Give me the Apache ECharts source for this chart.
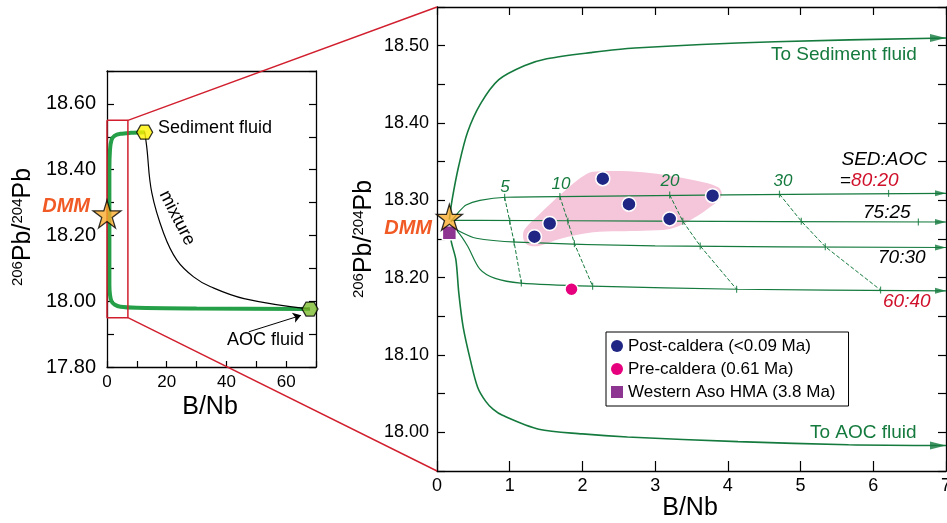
<!DOCTYPE html>
<html>
<head>
<meta charset="utf-8">
<script src="https://cdn.jsdelivr.net/npm/echarts@6/dist/echarts.min.js"></script>
<style>
html, body { margin: 0; padding: 0; background: #fff; }
#main { width: 947px; height: 523px; }
</style>
</head>
<body>
<div id="main"></div>
<script>
// ---- left panel (overview, B/Nb 0-70) ----
var greenX = [12.6, 8, 4.5, 2.5, 1.5, 1.0, 0.8, 0.8, 1.0, 1.5, 2.5, 4.5, 10, 30, 68];
var greenY = [18.514, 18.512, 18.509, 18.503, 18.49, 18.46, 18.40, 18.05, 18.02, 18.0, 17.99, 17.983, 17.98, 17.978, 17.976];
var mixX = [12.6, 13.3, 15.0, 19.0, 23.4, 29.0, 34.7, 45.9, 68.0];
var mixY = [18.516, 18.47, 18.33, 18.206, 18.125, 18.074, 18.044, 18.008, 17.976];
var sedFluid = [12.6, 18.514];
var aocFluid = [68, 17.976];
var dmmLeft = [0, 18.265];
var boxX = [0, 7, 7, 0, 0];
var boxY = [18.55, 18.55, 17.95, 17.95, 18.55];
var aocArrowX = [47.5, 65];
var aocArrowY = [17.907, 17.957];

// ---- right panel (zoom, B/Nb 0-7) ----
var sedCurveX = [0.17, 0.21, 0.30, 0.42, 0.6, 0.85, 1.2, 1.51, 2.11, 2.72, 4.65, 7];
var sedCurveY = [18.275, 18.302, 18.345, 18.388, 18.425, 18.456, 18.474, 18.483, 18.491, 18.497, 18.505, 18.51];
var aocCurveX = [0.17, 0.2, 0.26, 0.30, 0.36, 0.46, 0.56, 0.67, 0.77, 0.9, 1.4, 2.0, 2.62, 4.14, 5.66, 7];
var aocCurveY = [18.262, 18.245, 18.223, 18.18, 18.136, 18.093, 18.058, 18.04, 18.03, 18.022, 18.004, 17.998, 17.994, 17.988, 17.984, 17.983];

var mix8020X = [0.19, 0.3, 0.4, 0.59, 0.95, 2, 4, 7];
var mix8020Y = [18.272, 18.285, 18.294, 18.300, 18.304, 18.305, 18.307, 18.309];
var mix7525X = [0.19, 0.6, 3, 7];
var mix7525Y = [18.274, 18.274, 18.273, 18.272];
var mix7030X = [0.19, 0.29, 0.54, 1.10, 3, 7];
var mix7030Y = [18.268, 18.261, 18.251, 18.246, 18.241, 18.239];
var mix6040X = [0.19, 0.29, 0.42, 0.59, 0.8, 1.15, 2.12, 4.14, 7];
var mix6040Y = [18.266, 18.259, 18.241, 18.211, 18.199, 18.193, 18.189, 18.185, 18.183];

// fluid addition (%) ticks across the mixing lines
var d5X = [0.93, 1.0, 1.06, 1.16];
var d5Y = [18.304, 18.273, 18.246, 18.193];
var d10X = [1.69, 1.80, 1.89, 2.14];
var d10Y = [18.305, 18.273, 18.244, 18.189];
var d20X = [3.20, 3.38, 3.62, 4.12];
var d20Y = [18.307, 18.273, 18.241, 18.185];
var d30X = [4.71, 5.01, 5.34, 6.10];
var d30Y = [18.308, 18.273, 18.240, 18.184];
var extraTickX = [6.21, 6.62];
var extraTickY = [18.309, 18.272];

var regionX = [1.183, 1.207, 1.413, 1.734, 2.056, 2.239, 2.835, 3.570, 3.867, 3.914, 3.753, 3.432, 3.202, 2.835, 2.147, 1.688, 1.413, 1.276, 1.207];
var regionY = [18.2542, 18.2629, 18.2823, 18.3103, 18.3340, 18.3375, 18.3362, 18.3254, 18.3168, 18.3060, 18.2909, 18.2715, 18.2629, 18.2607, 18.2586, 18.2499, 18.2413, 18.2413, 18.2457];

var postX = [2.28, 2.64, 3.79, 3.20, 1.55, 1.34];
var postY = [18.328, 18.295, 18.306, 18.276, 18.270, 18.253];
var preX = [1.85];
var preY = [18.185];
var hmaX = [0.17];
var hmaY = [18.258];
var dmmRight = [0.17, 18.278];

function pts(xs, ys) { return xs.map(function (x, i) { return [x, ys[i]]; }); }

var FONT = 'Liberation Sans, Arial, Helvetica, sans-serif';
var GREEN = '#157a3e';
var STAR = 'path://M50,0 L61,35 L98,35 L68,57 L79,91 L50,70 L21,91 L32,57 L2,35 L39,35 Z';
var HEX = 'path://M-1,0 L-0.5,-0.866 L0.5,-0.866 L1,0 L0.5,0.866 L-0.5,0.866 Z';
var ARROW = 'path://M0,0 L12,4 L0,8 Z';

function axisBase(extra) {
    var a = {
        type: 'value',
        axisLine: { show: true, onZero: false, lineStyle: { color: '#000', width: 1.3 } },
        axisTick: { show: true, inside: true, length: 7, lineStyle: { color: '#000', width: 1.2 } },
        splitLine: { show: false },
        axisLabel: { show: false }
    };
    for (var k in extra) a[k] = extra[k];
    return a;
}

var chart = echarts.init(document.getElementById('main'));

var option = {
    animation: false,
    backgroundColor: '#fff',
    textStyle: { fontFamily: FONT },
    grid: [
        { left: 107, top: 71, width: 209, height: 296, containLabel: false, outerBoundsMode: 'none' },
        { left: 437, top: 7, width: 509, height: 464, containLabel: false, outerBoundsMode: 'none' }
    ],
    xAxis: [
        axisBase({ gridIndex: 0, position: 'bottom', min: 0, max: 70, interval: 10,
            axisTick: { show: true, inside: true, length: 6, lineStyle: { color: '#000', width: 1.2 } },
            axisLabel: { show: true, margin: 7, fontSize: 17, color: '#000', fontFamily: FONT,
                formatter: function (v) { return (v % 20 === 0 && v < 70) ? String(v) : ''; } } }),
        axisBase({ gridIndex: 0, position: 'top', min: 0, max: 70, interval: 10, axisTick: { show: false } }),
        axisBase({ gridIndex: 1, position: 'bottom', min: 0, max: 7, interval: 1,
            axisTick: { show: true, inside: true, length: 10, lineStyle: { color: '#000', width: 1.2 } },
            axisLabel: { show: true, margin: 6, fontSize: 18, color: '#000', fontFamily: FONT } }),
        axisBase({ gridIndex: 1, position: 'top', min: 0, max: 7, interval: 1,
            axisTick: { show: true, inside: true, length: 8, lineStyle: { color: '#000', width: 1.2 } } })
    ],
    yAxis: [
        axisBase({ gridIndex: 0, position: 'left', min: 17.8, max: 18.7, interval: 0.1,
            axisLabel: { show: true, margin: 11, fontSize: 20, color: '#000', fontFamily: FONT,
                formatter: function (v) { return Math.round(v * 10) % 2 === 0 ? v.toFixed(2) : ''; } } }),
        axisBase({ gridIndex: 0, position: 'right', min: 17.8, max: 18.7, interval: 0.1 }),
        axisBase({ gridIndex: 1, position: 'left', min: 17.95, max: 18.55, interval: 0.05,
            axisTick: { show: true, inside: true, length: 8, lineStyle: { color: '#000', width: 1.2 } },
            axisLabel: { show: true, margin: 8, fontSize: 18, color: '#000', fontFamily: FONT,
                formatter: function (v) { return Math.round(v * 100) % 10 === 0 ? v.toFixed(2) : ''; } } }),
        axisBase({ gridIndex: 1, position: 'right', min: 17.95, max: 18.55, interval: 0.05,
            axisTick: { show: true, inside: true, length: 8, lineStyle: { color: '#000', width: 1.2 } } })
    ],
    legend: {
        orient: 'vertical', left: 606, top: 332,
        padding: [4, 13, 4, 5], itemGap: 3, itemWidth: 12, itemHeight: 12,
        borderColor: '#000', borderWidth: 1, backgroundColor: '#fff',
        textStyle: { fontSize: 17, color: '#000', fontFamily: FONT, lineHeight: 20 },
        selectedMode: false,
        data: [
            { name: 'Post-caldera (<0.09 Ma)', icon: 'circle', itemStyle: { borderWidth: 0 } },
            { name: 'Pre-caldera (0.61 Ma)', icon: 'circle', itemStyle: { borderWidth: 0 } },
            { name: 'Western Aso HMA (3.8 Ma)', icon: 'rect', itemStyle: { borderWidth: 0 } }
        ]
    },
    series: [
        // left panel
        { type: 'line', xAxisIndex: 0, yAxisIndex: 0, data: pts(greenX, greenY), smooth: 0.3,
          showSymbol: false, lineStyle: { color: '#26a048', width: 4 }, z: 2 },
        { type: 'line', xAxisIndex: 0, yAxisIndex: 0, data: pts(mixX, mixY), smooth: 0.4,
          showSymbol: false, lineStyle: { color: '#000', width: 1.2 }, z: 3,
          markLine: { silent: true, symbol: ['none', 'arrow'], symbolSize: 8, animation: false,
              lineStyle: { color: '#000', width: 1, type: 'solid' }, label: { show: false },
              data: [[{ coord: [aocArrowX[0], aocArrowY[0]] }, { coord: [aocArrowX[1], aocArrowY[1]] }]] } },
        { type: 'line', xAxisIndex: 0, yAxisIndex: 0, data: pts(boxX, boxY), clip: false,
          showSymbol: false, lineStyle: { color: '#d11f2e', width: 1.5 }, z: 4 },
        { type: 'scatter', xAxisIndex: 0, yAxisIndex: 0, data: [sedFluid], symbol: HEX, symbolSize: [16, 14],
          itemStyle: { color: '#fff200', borderColor: '#000', borderWidth: 1.2 }, clip: false, z: 6 },
        { type: 'scatter', xAxisIndex: 0, yAxisIndex: 0, data: [aocFluid], symbol: HEX, symbolSize: [16, 14],
          itemStyle: { color: '#7dbb2e', borderColor: '#000', borderWidth: 1.2 }, clip: false, z: 6 },
        { type: 'scatter', xAxisIndex: 0, yAxisIndex: 0, data: [dmmLeft], symbol: STAR, symbolSize: 28,
          itemStyle: { color: '#f9ad2d', borderColor: '#000', borderWidth: 1.3 }, clip: false, z: 7 },

        // right panel
        { type: 'custom', xAxisIndex: 2, yAxisIndex: 2, data: [[0, 0]], z: 1, silent: true,
          renderItem: function (params, api) {
              var p = regionX.map(function (x, i) { return api.coord([x, regionY[i]]); });
              return { type: 'polygon', shape: { points: p, smooth: 0.35 }, style: { fill: '#f5c6da' } };
          } },
        { type: 'line', xAxisIndex: 2, yAxisIndex: 2, data: pts(sedCurveX, sedCurveY), smooth: 0.3,
          showSymbol: false, lineStyle: { color: GREEN, width: 1.6 }, z: 3 },
        { type: 'line', xAxisIndex: 2, yAxisIndex: 2, data: pts(aocCurveX, aocCurveY), smooth: 0.3,
          showSymbol: false, lineStyle: { color: GREEN, width: 1.6 }, z: 3 },
        { type: 'line', xAxisIndex: 2, yAxisIndex: 2, data: pts(mix8020X, mix8020Y), smooth: 0.3,
          showSymbol: false, lineStyle: { color: GREEN, width: 1.2 }, z: 3 },
        { type: 'line', xAxisIndex: 2, yAxisIndex: 2, data: pts(mix7525X, mix7525Y), smooth: 0.3,
          showSymbol: false, lineStyle: { color: GREEN, width: 1.2 }, z: 3 },
        { type: 'line', xAxisIndex: 2, yAxisIndex: 2, data: pts(mix7030X, mix7030Y), smooth: 0.3,
          showSymbol: false, lineStyle: { color: GREEN, width: 1.2 }, z: 3 },
        { type: 'line', xAxisIndex: 2, yAxisIndex: 2, data: pts(mix6040X, mix6040Y), smooth: 0.3,
          showSymbol: false, lineStyle: { color: GREEN, width: 1.2 }, z: 3 },
        // arrow heads at the right edge
        { type: 'scatter', xAxisIndex: 2, yAxisIndex: 2, symbol: ARROW, symbolSize: [16, 8], symbolOffset: [-8, 0],
          data: [[7, sedCurveY[sedCurveY.length - 1]], [7, aocCurveY[aocCurveY.length - 1]]],
          itemStyle: { color: GREEN }, clip: false, z: 4 },
        { type: 'scatter', xAxisIndex: 2, yAxisIndex: 2, symbol: ARROW, symbolSize: [11, 6], symbolOffset: [-5.5, 0],
          data: [[7, mix8020Y[mix8020Y.length - 1]], [7, mix7525Y[mix7525Y.length - 1]],
                 [7, mix7030Y[mix7030Y.length - 1]], [7, mix6040Y[mix6040Y.length - 1]]],
          itemStyle: { color: GREEN }, clip: false, z: 4 },
        // dashed % lines
        { type: 'line', xAxisIndex: 2, yAxisIndex: 2, data: pts(d5X, d5Y), showSymbol: false,
          lineStyle: { color: GREEN, width: 1, type: [4, 2] }, z: 3 },
        { type: 'line', xAxisIndex: 2, yAxisIndex: 2, data: pts(d10X, d10Y), showSymbol: false,
          lineStyle: { color: GREEN, width: 1, type: [4, 2] }, z: 3 },
        { type: 'line', xAxisIndex: 2, yAxisIndex: 2, data: pts(d20X, d20Y), showSymbol: false,
          lineStyle: { color: GREEN, width: 1, type: [4, 2] }, z: 3 },
        { type: 'line', xAxisIndex: 2, yAxisIndex: 2, data: pts(d30X, d30Y), showSymbol: false,
          lineStyle: { color: GREEN, width: 1, type: [4, 2] }, z: 3 },
        { type: 'scatter', xAxisIndex: 2, yAxisIndex: 2, symbol: 'rect', symbolSize: [1.2, 7],
          data: pts(d5X, d5Y).concat(pts(d10X, d10Y), pts(d20X, d20Y), pts(d30X, d30Y), pts(extraTickX, extraTickY)),
          itemStyle: { color: GREEN }, z: 4 },
        // samples
        { name: 'Post-caldera (<0.09 Ma)', type: 'scatter', xAxisIndex: 2, yAxisIndex: 2, data: pts(postX, postY),
          symbol: 'circle', symbolSize: 14, itemStyle: { color: '#1f2683', borderColor: '#fff', borderWidth: 1.5, opacity: 1 }, z: 6 },
        { name: 'Pre-caldera (0.61 Ma)', type: 'scatter', xAxisIndex: 2, yAxisIndex: 2, data: pts(preX, preY),
          symbol: 'circle', symbolSize: 13, itemStyle: { color: '#e6007e', borderColor: '#fff', borderWidth: 1.5, opacity: 1 }, z: 6 },
        { name: 'Western Aso HMA (3.8 Ma)', type: 'scatter', xAxisIndex: 2, yAxisIndex: 2, data: pts(hmaX, hmaY),
          symbol: 'rect', symbolSize: 14, itemStyle: { color: '#8e3591', borderColor: '#fff', borderWidth: 1.5, opacity: 1 }, clip: false, z: 6 },
        { type: 'scatter', xAxisIndex: 2, yAxisIndex: 2, data: [dmmRight], symbol: STAR, symbolSize: 26,
          itemStyle: { color: '#f9ad2d', borderColor: '#000', borderWidth: 1.3 }, clip: false, z: 7 }
    ]
};

chart.setOption(option);

// red zoom-connector lines between the two panels, positioned through the axes
var tl0 = chart.convertToPixel({ xAxisIndex: 0, yAxisIndex: 0 }, [boxX[1], boxY[1]]);
var bl0 = chart.convertToPixel({ xAxisIndex: 0, yAxisIndex: 0 }, [boxX[2], boxY[2]]);
var tl1 = chart.convertToPixel({ xAxisIndex: 2, yAxisIndex: 2 }, [0, 18.55]);
var bl1 = chart.convertToPixel({ xAxisIndex: 2, yAxisIndex: 2 }, [0, 17.95]);

function txt(x, y, text, o) {
    var s = { text: text, x: 0, y: 0, fill: o.color || '#000', fontFamily: FONT,
              fontSize: o.size || 18, fontStyle: o.italic ? 'italic' : 'normal',
              fontWeight: o.bold ? 'bold' : 'normal',
              align: o.align || 'left', verticalAlign: 'middle' };
    if (o.rich) s.rich = o.rich;
    return { type: 'text', x: x, y: y, rotation: o.rot || 0, style: s, z: 20, silent: true };
}

var supRich = {
    s: { fontSize: 15, fontFamily: FONT, fill: '#000', verticalAlign: 'top', padding: [0, 0, 10, 0] },
    p: { fontSize: 25, fontFamily: FONT, fill: '#000' }
};

chart.setOption({
    graphic: [
        { type: 'line', shape: { x1: tl0[0], y1: tl0[1], x2: tl1[0], y2: tl1[1] }, style: { stroke: '#d11f2e', lineWidth: 1.4 }, z: 5, silent: true },
        { type: 'line', shape: { x1: bl0[0], y1: bl0[1], x2: bl1[0], y2: bl1[1] }, style: { stroke: '#d11f2e', lineWidth: 1.4 }, z: 5, silent: true },
        // left panel texts
        txt(158, 128, 'Sediment fluid', { size: 18 }),
        txt(177, 218, 'mixture', { size: 18, align: 'center', rot: -1.1 }),
        txt(227, 340, 'AOC fluid', { size: 18 }),
        txt(90, 206, 'DMM', { size: 20, bold: true, italic: true, color: '#f15a24', align: 'right' }),
        txt(23, 227, '{s|206}{p|Pb/}{s|204}{p|Pb}', { align: 'center', rot: Math.PI / 2, rich: supRich }),
        txt(210, 407, 'B/Nb', { size: 25, align: 'center' }),
        // right panel texts
        txt(364, 239, '{s|206}{p|Pb/}{s|204}{p|Pb}', { align: 'center', rot: Math.PI / 2, rich: supRich }),
        txt(690, 508, 'B/Nb', { size: 25, align: 'center' }),
        txt(771, 55, 'To Sediment fluid', { size: 19, color: GREEN }),
        txt(810, 433, 'To AOC fluid', { size: 19, color: GREEN }),
        txt(927, 160, 'SED:AOC', { size: 19, italic: true, align: 'right' }),
        txt(840, 181, '{e|=}{r|80:20}', { rich: {
            e: { fontSize: 19, fontFamily: FONT, fill: '#000' },
            r: { fontSize: 19, fontFamily: FONT, fill: '#d0112b', fontStyle: 'italic' } } }),
        txt(863, 213, '75:25', { size: 19, italic: true }),
        txt(878, 258, '70:30', { size: 19, italic: true }),
        txt(883, 302, '60:40', { size: 19, italic: true, color: '#d0112b' }),
        txt(505, 187, '5', { size: 17, italic: true, color: GREEN, align: 'center' }),
        txt(561, 184, '10', { size: 17, italic: true, color: GREEN, align: 'center' }),
        txt(670, 181, '20', { size: 17, italic: true, color: GREEN, align: 'center' }),
        txt(783, 181, '30', { size: 17, italic: true, color: GREEN, align: 'center' }),
        txt(432, 228, 'DMM', { size: 20, bold: true, italic: true, color: '#f15a24', align: 'right' })
    ]
});
</script>
</body>
</html>
